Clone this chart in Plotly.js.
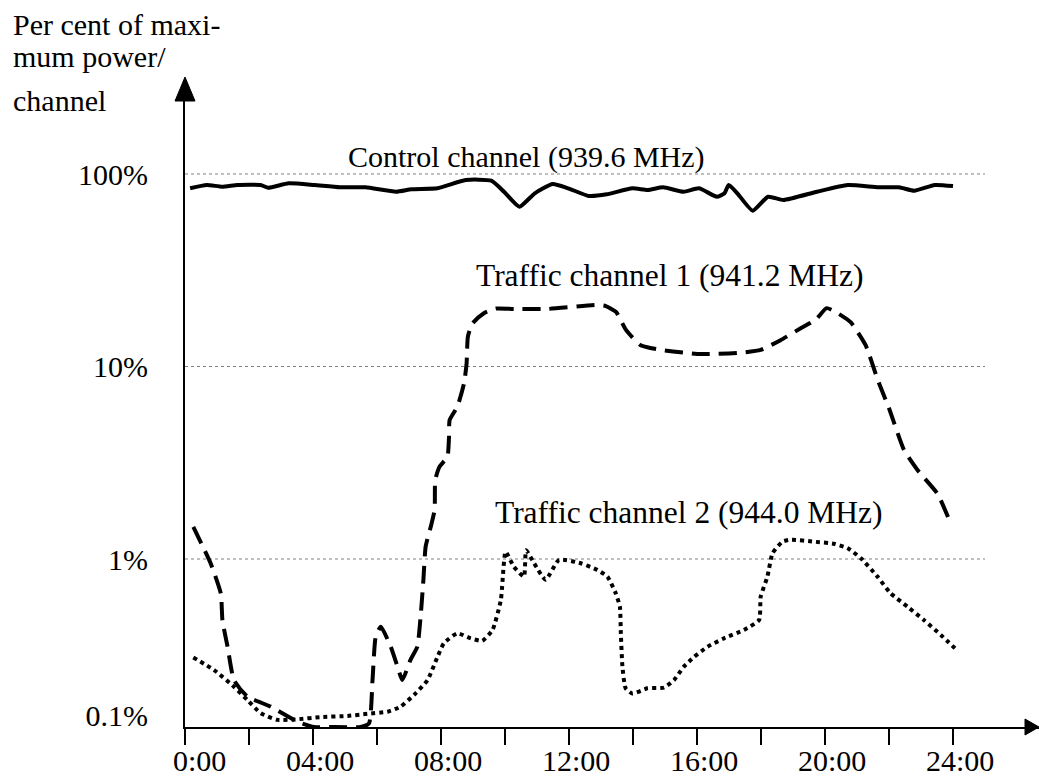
<!DOCTYPE html>
<html><head><meta charset="utf-8">
<script src="https://cdn.plot.ly/plotly-3.0.1.min.js"></script>
<style>html,body{margin:0;padding:0;background:#fff}#chart{width:1039px;height:778px}</style>
</head><body><div id="chart"></div>
<script>
// ---- data (hours of day, per cent of maximum power) ----
const controlHours = [0.16,0.68,1.16,1.64,2.36,2.6,3.24,4.04,4.84,5.64,6.6,7.08,7.89,8.77,9.57,9.97,10.45,10.93,11.49,11.97,12.62,13.18,13.98,14.46,14.94,15.58,16.06,16.62,16.86,16.99,17.26,17.74,18.22,18.7,19.75,20.71,21.67,22.31,22.79,23.43,24.0];
const controlPct   = [84.3,87.7,85.9,87.7,87.7,84.9,89.5,87.7,85.3,85.3,80.9,83.3,84.3,93.1,92.3,80.9,67.6,79.4,88.7,84.3,76.9,78.4,84.3,82.6,85.3,80.9,84.3,76.2,79.4,87.7,79.4,64.5,76.2,73.3,80.9,87.7,85.3,85.3,81.9,87.7,86.6];

const traffic1Hours = [0.26,0.8,1.12,1.17,1.33,1.53,1.95,2.68,3.51,4.03,4.66,5.49,5.75,5.86,5.96,6.12,6.43,6.64,6.79,7.05,7.26,7.37,7.45,7.52,7.68,7.8,7.82,7.95,8.2,8.25,8.27,8.51,8.72,8.8,8.84,8.98,9.34,9.71,10.28,11.33,12.89,13.15,13.47,13.78,14.24,14.87,16.12,17.37,17.99,18.61,19.24,19.71,20.05,20.33,20.8,21.27,21.65,22.0,22.47,22.89,23.51,23.88];
const traffic1Pct   = [1.47,0.95,0.66,0.48,0.35,0.235,0.193,0.171,0.143,0.134,0.134,0.134,0.14,0.235,0.395,0.445,0.35,0.276,0.235,0.3,0.35,0.52,0.78,1.16,1.47,1.8,2.57,3.01,3.39,4.31,5.27,6.18,8.18,10.4,14.3,16.7,18.9,20.0,19.9,19.9,20.9,20.6,19.2,15.5,12.9,12.2,11.6,11.8,12.2,13.7,15.8,17.5,20.1,19.2,17.0,12.9,8.5,6.07,3.68,2.9,2.19,1.6];

const traffic2Hours = [0.26,0.91,1.53,1.95,2.37,2.89,3.51,4.24,5.08,5.7,6.33,6.74,7.16,7.58,7.89,8.09,8.51,8.93,9.29,9.61,9.87,10.02,10.28,10.59,10.66,10.91,11.27,11.69,12.37,12.89,13.2,13.46,13.59,13.62,13.67,13.77,13.98,14.45,14.97,15.28,15.59,15.91,16.33,16.84,17.47,17.94,17.99,18.2,18.36,18.67,18.93,19.66,20.28,20.7,21.12,21.64,22.05,22.58,23.09,23.62,24.14];
const traffic2Pct   = [0.308,0.265,0.217,0.185,0.158,0.146,0.147,0.151,0.153,0.157,0.161,0.171,0.197,0.235,0.31,0.365,0.411,0.387,0.376,0.428,0.612,1.09,0.91,0.81,1.11,0.95,0.78,0.99,0.95,0.877,0.81,0.664,0.565,0.411,0.276,0.213,0.2,0.213,0.215,0.235,0.276,0.31,0.35,0.387,0.428,0.482,0.637,0.81,1.07,1.23,1.26,1.23,1.2,1.14,1.01,0.81,0.664,0.565,0.482,0.403,0.334];

const seriesNames = ['Control channel (939.6 MHz)','Traffic channel 1 (941.2 MHz)','Traffic channel 2 (944.0 MHz)'];
const tickHours  = [0,2,4,6,8,10,12,14,16,18,20,22,24];
const labelHours = [0,4,8,12,16,20,24];
const labelText  = ['0:00','04:00','08:00','12:00','16:00','20:00','24:00'];
const yTickVals  = [0.153,1,10,100];
const yTickText  = ['0.1%','1%','10%','100%'];
const gridPct    = [1,10,100];
const yTitleLines = ['Per cent of maxi-','mum power/','channel'];

// ---- geometry ----
const W = 1039, H = 778;
const mL = 185, mT = 80, mR = 0, mB = 51;
const pw = W - mL - mR, ph = H - mT - mB;
const yRange = [-0.8727, 2.4883];
const xRange = [0, pw / 32];
const px = x => (x - mL) / pw;           // pixel -> paper x
const py = y => (H - mB - y) / ph;        // pixel -> paper y
const ly = v => (Math.log10(v) - yRange[0]) / (yRange[1] - yRange[0]);

const FONT = 'Liberation Serif, Times New Roman, serif';

const traces = [
  {x: controlHours, y: controlPct, name: seriesNames[0], mode: 'lines',
   line: {color: '#000', width: 4, shape: 'spline', smoothing: 0.5}},
  {x: traffic1Hours, y: traffic1Pct, name: seriesNames[1], mode: 'lines',
   line: {color: '#000', width: 4, dash: '18px,9px', shape: 'spline', smoothing: 0.5}},
  {x: traffic2Hours, y: traffic2Pct, name: seriesNames[2], mode: 'lines',
   line: {color: '#000', width: 4, dash: 'dot', shape: 'spline', smoothing: 0.5}}
];

const shapes = gridPct.map(g => ({
  type: 'line', xref: 'paper', yref: 'paper', x0: 0, x1: px(985), y0: ly(g), y1: ly(g),
  line: {color: '#808080', width: 1, dash: 'dot'}, layer: 'below'
}));
// axis arrowheads
shapes.push({type: 'path', xref: 'paper', yref: 'paper',
  path: `M ${px(175)} ${py(101)} L ${px(195)} ${py(101)} L ${px(185)} ${py(77)} Z`,
  fillcolor: '#000', line: {color: '#000', width: 1}});
shapes.push({type: 'path', xref: 'paper', yref: 'paper',
  path: `M ${px(1025)} ${py(719)} L ${px(1025)} ${py(735)} L ${px(1039)} ${py(727)} Z`,
  fillcolor: '#000', line: {color: '#000', width: 1}});

const annotations = [];
const titleLineY = [25, 57, 100];
yTitleLines.forEach((t, i) => annotations.push({text: t, xref: 'paper', yref: 'paper', x: px(11), y: py(titleLineY[i]),
  xanchor: 'left', yanchor: 'middle', showarrow: false, font: {family: FONT, size: 30, color: '#000'}}));
const seriesLabelPos = [[526, 156.5], [670, 275], [689, 512.5]];
const seriesLabelSize = [30, 31.5, 31.5];
seriesNames.forEach((n, i) => annotations.push({text: n, xref: 'paper', yref: 'paper',
  x: px(seriesLabelPos[i][0]), y: py(seriesLabelPos[i][1]), xanchor: 'center', yanchor: 'middle',
  showarrow: false, font: {family: FONT, size: seriesLabelSize[i], color: '#000'}}));
labelHours.forEach((h, i) => annotations.push({text: labelText[i], xref: 'x', yref: 'paper',
  x: h + 42.7 / 32, y: 0, yshift: -33, xanchor: 'right', yanchor: 'middle',
  showarrow: false, font: {family: FONT, size: 30, color: '#000'}}));

const layout = {
  width: W, height: H, margin: {l: mL, r: mR, t: mT, b: mB, pad: 0},
  paper_bgcolor: '#fff', plot_bgcolor: '#fff', showlegend: false,
  font: {family: FONT, size: 30, color: '#000'},
  xaxis: {range: xRange, showline: true, linecolor: '#000', linewidth: 2, showgrid: false, zeroline: false,
    tickmode: 'array', tickvals: tickHours, showticklabels: false,
    ticks: 'outside', ticklen: 16, tickwidth: 2, tickcolor: '#000'},
  yaxis: {type: 'log', range: yRange, showline: true, linecolor: '#000', linewidth: 2, showgrid: false, zeroline: false,
    tickmode: 'array', tickvals: yTickVals, ticktext: yTickText,
    ticks: 'outside', ticklen: 29, tickcolor: 'rgba(0,0,0,0)', tickfont: {family: FONT, size: 30, color: '#000'}},
  shapes: shapes, annotations: annotations
};

Plotly.newPlot('chart', traces, layout, {displayModeBar: false, staticPlot: true});
</script></body></html>
